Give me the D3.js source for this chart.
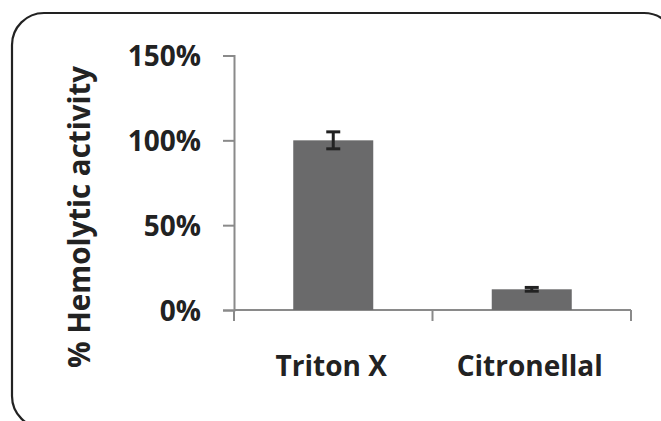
<!DOCTYPE html>
<html>
<head>
<meta charset="utf-8">
<script src="https://cdn.jsdelivr.net/npm/d3@7"></script>
<style>
  body { margin: 0; background: #fff; }
  svg { display: block; }
  text { font-family: "Open Sans", sans-serif; font-weight: 700; fill: #222; }
</style>
</head>
<body>
<div id="chart"></div>
<script>
var categories = ["Triton X", "Citronellal"];
var values = [1.00, 0.122];
var errors = [0.05, 0.011];
var yTicks = [0, 0.5, 1.0, 1.5];

function BarChart(){
    var w = 661;
    var h = 421;

    var svg = d3.select("#chart")
                .append("svg")
                .attr("width", w)
                .attr("height", h);

    // rounded frame, runs off the right and bottom edges
    svg.append("rect")
        .attr("x", 12)
        .attr("y", 13)
        .attr("width", 664)
        .attr("height", 415)
        .attr("rx", 32)
        .attr("fill", "none")
        .attr("stroke", "#222")
        .attr("stroke-width", 2.2);

    var Xscale = d3.scaleBand()
                .domain(categories)
                .range([234, 631])
                .paddingInner(0)
                .paddingOuter(0);

    var Yscale = d3.scaleLinear()
                .domain([0, 1.5])
                .range([310, 55.5]);

    var yAxis = d3.axisLeft(Yscale)
                .tickValues(yTicks)
                .tickSize(11)
                .tickPadding(22)
                .tickFormat(d3.format(".0%"));

    var gy = svg.append("g")
        .attr("transform", "translate(234,0)")
        .call(yAxis);

    gy.select(".domain").attr("stroke", "#8a8a8a").attr("stroke-width", 2);
    gy.selectAll(".tick line").attr("stroke", "#8a8a8a").attr("stroke-width", 2);
    gy.selectAll(".tick text")
        .attr("font-size", 28)
        .attr("fill", "#222")
        .attr("font-family", "Open Sans, sans-serif")
        .attr("font-weight", 700)
        .attr("dy", "0.36em");

    // x axis line with ticks at band edges
    svg.append("line")
        .attr("x1", 234).attr("x2", 631)
        .attr("y1", Yscale(0)).attr("y2", Yscale(0))
        .attr("stroke", "#8a8a8a").attr("stroke-width", 2);

    var edges = categories.map(function(c){ return Xscale(c); });
    edges.push(Xscale.range()[1]);
    svg.selectAll(".xtick")
        .data(edges)
        .enter()
        .append("line")
        .attr("class", "xtick")
        .attr("x1", function(d){ return d; })
        .attr("x2", function(d){ return d; })
        .attr("y1", Yscale(0))
        .attr("y2", Yscale(0) + 11)
        .attr("stroke", "#8a8a8a")
        .attr("stroke-width", 2);

    var barW = 80;

    svg.selectAll(".bar")
        .data(values)
        .enter()
        .append("rect")
        .attr("class", "bar")
        .attr("x", function(d, i){ return Xscale(categories[i]) + Xscale.bandwidth() / 2 - barW / 2; })
        .attr("y", function(d){ return Yscale(d); })
        .attr("width", barW)
        .attr("height", function(d){ return Yscale(0) - Yscale(d); })
        .attr("fill", "#6a6a6b");

    // error bars
    var eb = svg.selectAll(".err")
        .data(values)
        .enter()
        .append("g")
        .attr("class", "err")
        .attr("stroke", "#222")
        .attr("stroke-width", 3);

    eb.append("line")
        .attr("x1", function(d, i){ return Xscale(categories[i]) + Xscale.bandwidth() / 2; })
        .attr("x2", function(d, i){ return Xscale(categories[i]) + Xscale.bandwidth() / 2; })
        .attr("y1", function(d, i){ return Yscale(d + errors[i]); })
        .attr("y2", function(d, i){ return Yscale(d - errors[i]); });

    [1, -1].forEach(function(s){
        eb.append("line")
            .attr("x1", function(d, i){ return Xscale(categories[i]) + Xscale.bandwidth() / 2 - 7; })
            .attr("x2", function(d, i){ return Xscale(categories[i]) + Xscale.bandwidth() / 2 + 7; })
            .attr("y1", function(d, i){ return Yscale(d + s * errors[i]); })
            .attr("y2", function(d, i){ return Yscale(d + s * errors[i]); });
    });

    svg.selectAll(".xlab")
        .data(categories)
        .enter()
        .append("text")
        .attr("class", "xlab")
        .attr("x", function(d){ return Xscale(d) + Xscale.bandwidth() / 2 - 2; })
        .attr("y", 376)
        .attr("text-anchor", "middle")
        .attr("font-size", 28)
        .text(function(d){ return d; });

    svg.append("text")
        .attr("transform", "translate(90,217) rotate(-90)")
        .attr("text-anchor", "middle")
        .attr("font-size", 29.5)
        .text("% Hemolytic activity");
}

window.onload = BarChart();
</script>
</body>
</html>
